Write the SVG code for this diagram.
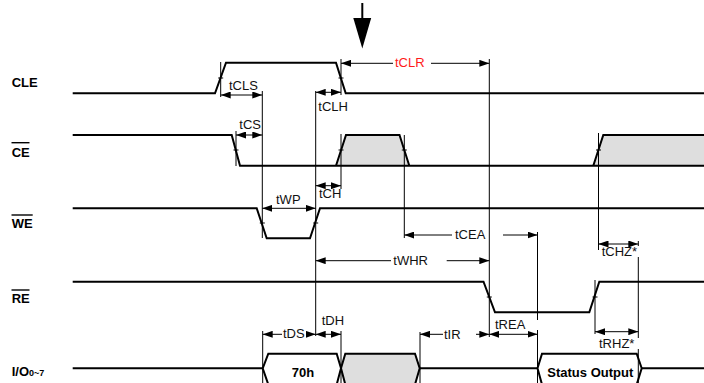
<svg xmlns="http://www.w3.org/2000/svg" width="704" height="383" viewBox="0 0 704 383">
<style>
.sig{fill:none;stroke:#000;stroke-width:2;stroke-linejoin:miter}
.bus{stroke:#000;stroke-width:2}
.grey{fill:#dedede}
.ref{fill:none;stroke:#000;stroke-width:1}
.tick{fill:none;stroke:#000;stroke-width:1}
.arr{fill:none;stroke:#000;stroke-width:1}
.both{marker-start:url(#ah);marker-end:url(#ah)}
.st{marker-start:url(#ah)}
.en{marker-end:url(#ah)}
.lbl{font-family:"Liberation Sans",Arial,sans-serif;font-size:13px;font-weight:bold;fill:#000}
.t{font-family:"Liberation Sans",Arial,sans-serif;font-size:13px;fill:#111}
.red{fill:#ff1a1a}
.ov{stroke:#000;stroke-width:1.4}
</style>
<defs>
<marker id="ah" viewBox="0 0 10 7" refX="10" refY="3.5" markerWidth="10" markerHeight="7" markerUnits="userSpaceOnUse" orient="auto-start-reverse">
<path d="M0,0 L10,3.5 L0,7 z" fill="#000"/>
</marker>
</defs>

<g id="marker-arrow">
<line x1="362.3" y1="3" x2="362.3" y2="20" stroke="#000" stroke-width="2"/>
<polygon points="353.3,18 371.2,18 362.3,48.5" fill="#000"/>
</g>

<g id="sig-cle">
<text class="lbl" x="11.7" y="87.3">CLE</text>
<path class="sig" d="M72.7,93.3 H215 L226,62.7 H336 L345.7,93.3 H704"/>
</g>

<g id="sig-ce">
<text class="lbl" x="11.7" y="156.7">CE</text>
<line class="ov" x1="11.5" y1="142.7" x2="29.5" y2="142.7"/>
<path class="grey" d="M336,165.7 L346,135 H399.5 L409.3,165.7 z"/>
<path class="grey" d="M593.3,165.7 L603.3,135 H704 V165.7 z"/>
<path class="sig" d="M72.7,135 H231.7 L240,165.7 H704"/>
<path class="sig" d="M336,165.7 L346,135 H399.5 L409.3,165.7"/>
<path class="sig" d="M593.3,165.7 L603.3,135 H704"/>
</g>

<g id="sig-we">
<text class="lbl" x="11.7" y="228.3">WE</text>
<line class="ov" x1="11.5" y1="215" x2="32.7" y2="215"/>
<path class="sig" d="M72.7,208.3 H256.7 L266.7,238.3 H310 L320,208.3 H704"/>
</g>

<g id="sig-re">
<text class="lbl" x="11.7" y="303.3">RE</text>
<line class="ov" x1="11.5" y1="290" x2="29.5" y2="290"/>
<path class="sig" d="M72.7,281.7 H483.5 L495,312.3 H589.3 L599.3,281.7 H704"/>
</g>

<g id="sig-io">
<text class="lbl" x="11.7" y="376"><tspan>I/O</tspan><tspan font-size="9">0~7</tspan></text>
<path class="sig" d="M72.7,368.3 H262.7"/>
<path class="bus" fill="#fff" d="M262.7,368.3 L268.3,353.7 H336.7 L341,368.3 L336.7,384.5 H268.3 z"/>
<path class="bus grey" d="M341,368.3 L345.3,353.7 H415 L419.7,368.3 L415,384.5 H345.3 z"/>
<path class="sig" d="M419.7,368.3 H537.5"/>
<path class="bus" fill="#fff" d="M537.5,368.3 L542,353.7 H636.7 L641.7,368.3 L636.7,384.5 H542 z"/>
<path class="sig" d="M641.7,368.3 H704"/>
<text class="lbl" x="291.7" y="376.7">70h</text>
<text class="lbl" x="547.3" y="376.7">Status Output</text>
</g>

<g id="connectors">
<!-- reference lines -->
<line class="ref" x1="220.7" y1="62" x2="220.7" y2="97"/>
<line class="ref" x1="262.3" y1="91" x2="262.3" y2="238"/>
<line class="ref" x1="341" y1="59" x2="341" y2="95"/>
<line class="ref" x1="315.7" y1="91" x2="315.7" y2="336"/>
<line class="ref" x1="236" y1="131" x2="236" y2="166"/>
<line class="ref" x1="341" y1="134" x2="341" y2="189"/>
<line class="ref" x1="404.3" y1="135" x2="404.3" y2="238"/>
<line class="ref" x1="489.3" y1="59" x2="489.3" y2="337"/>
<line class="ref" x1="537.5" y1="232" x2="537.5" y2="320"/>
<line class="ref" x1="537.5" y1="330" x2="537.5" y2="383"/>
<line class="ref" x1="598.5" y1="133" x2="598.5" y2="250"/>
<line class="ref" x1="638.3" y1="241" x2="638.3" y2="246"/>
<line class="ref" x1="638.3" y1="257" x2="638.3" y2="338"/>
<line class="ref" x1="638.3" y1="349" x2="638.3" y2="383"/>
<line class="ref" x1="595" y1="280" x2="595" y2="334"/>
<line class="ref" x1="262.7" y1="331" x2="262.7" y2="383"/>
<line class="ref" x1="341" y1="331" x2="341" y2="383"/>
<line class="ref" x1="420" y1="332" x2="420" y2="383"/>
<!-- edge ticks -->
<path class="tick" d="M218.2,78 h5 M338.5,78 h5 M233.5,150 h5 M338.5,150 h5 M401.8,150 h5 M596,150 h5 M259.8,223 h5 M313.2,223 h5 M486.8,297 h5 M592.5,297 h5"/>
<!-- timing arrows -->
<line class="arr both" x1="220.7" y1="95" x2="262.3" y2="95"/>
<line class="arr both" x1="315.7" y1="92.3" x2="341" y2="92.3"/>
<line class="arr st" x1="341" y1="63.3" x2="393" y2="63.3"/>
<line class="arr en" x1="431" y1="63.3" x2="489.3" y2="63.3"/>
<line class="arr both" x1="236" y1="135" x2="262.3" y2="135"/>
<line class="arr both" x1="262.3" y1="208.3" x2="315.7" y2="208.3"/>
<line class="arr both" x1="315.7" y1="185.7" x2="341" y2="185.7"/>
<line class="arr st" x1="404.3" y1="235" x2="452" y2="235"/>
<line class="arr en" x1="503" y1="235" x2="537.5" y2="235"/>
<line class="arr both" x1="598.5" y1="244" x2="638.3" y2="244"/>
<line class="arr st" x1="315.7" y1="260.7" x2="391" y2="260.7"/>
<line class="arr en" x1="446.7" y1="260.7" x2="489.3" y2="260.7"/>
<line class="arr st" x1="262.7" y1="334.3" x2="282" y2="334.3"/>
<line class="arr en" x1="311" y1="334.3" x2="315.7" y2="334.3"/>
<line class="arr both" x1="315.7" y1="334.3" x2="341" y2="334.3"/>
<line class="arr st" x1="420" y1="334.3" x2="443" y2="334.3"/>
<line class="arr en" x1="476" y1="334.3" x2="489.3" y2="334.3"/>
<line class="arr both" x1="489.3" y1="334.3" x2="537.5" y2="334.3"/>
<line class="arr both" x1="595" y1="331.7" x2="638.3" y2="331.7"/>
<!-- timing labels -->
<text class="t" x="229" y="90">tCLS</text>
<text class="t" x="318.3" y="111">tCLH</text>
<text class="t red" x="395" y="67">tCLR</text>
<text class="t" x="239.3" y="129">tCS</text>
<text class="t" x="276" y="204">tWP</text>
<text class="t" x="319" y="197.7">tCH</text>
<text class="t" x="455" y="239">tCEA</text>
<text class="t" x="601.7" y="256">tCHZ*</text>
<text class="t" x="393.3" y="265">tWHR</text>
<text class="t" x="283" y="338.3">tDS</text>
<text class="t" x="321.7" y="325">tDH</text>
<text class="t" x="444" y="339">tIR</text>
<text class="t" x="495" y="329.3">tREA</text>
<text class="t" x="599" y="348.3">tRHZ*</text>
</g>
</svg>
